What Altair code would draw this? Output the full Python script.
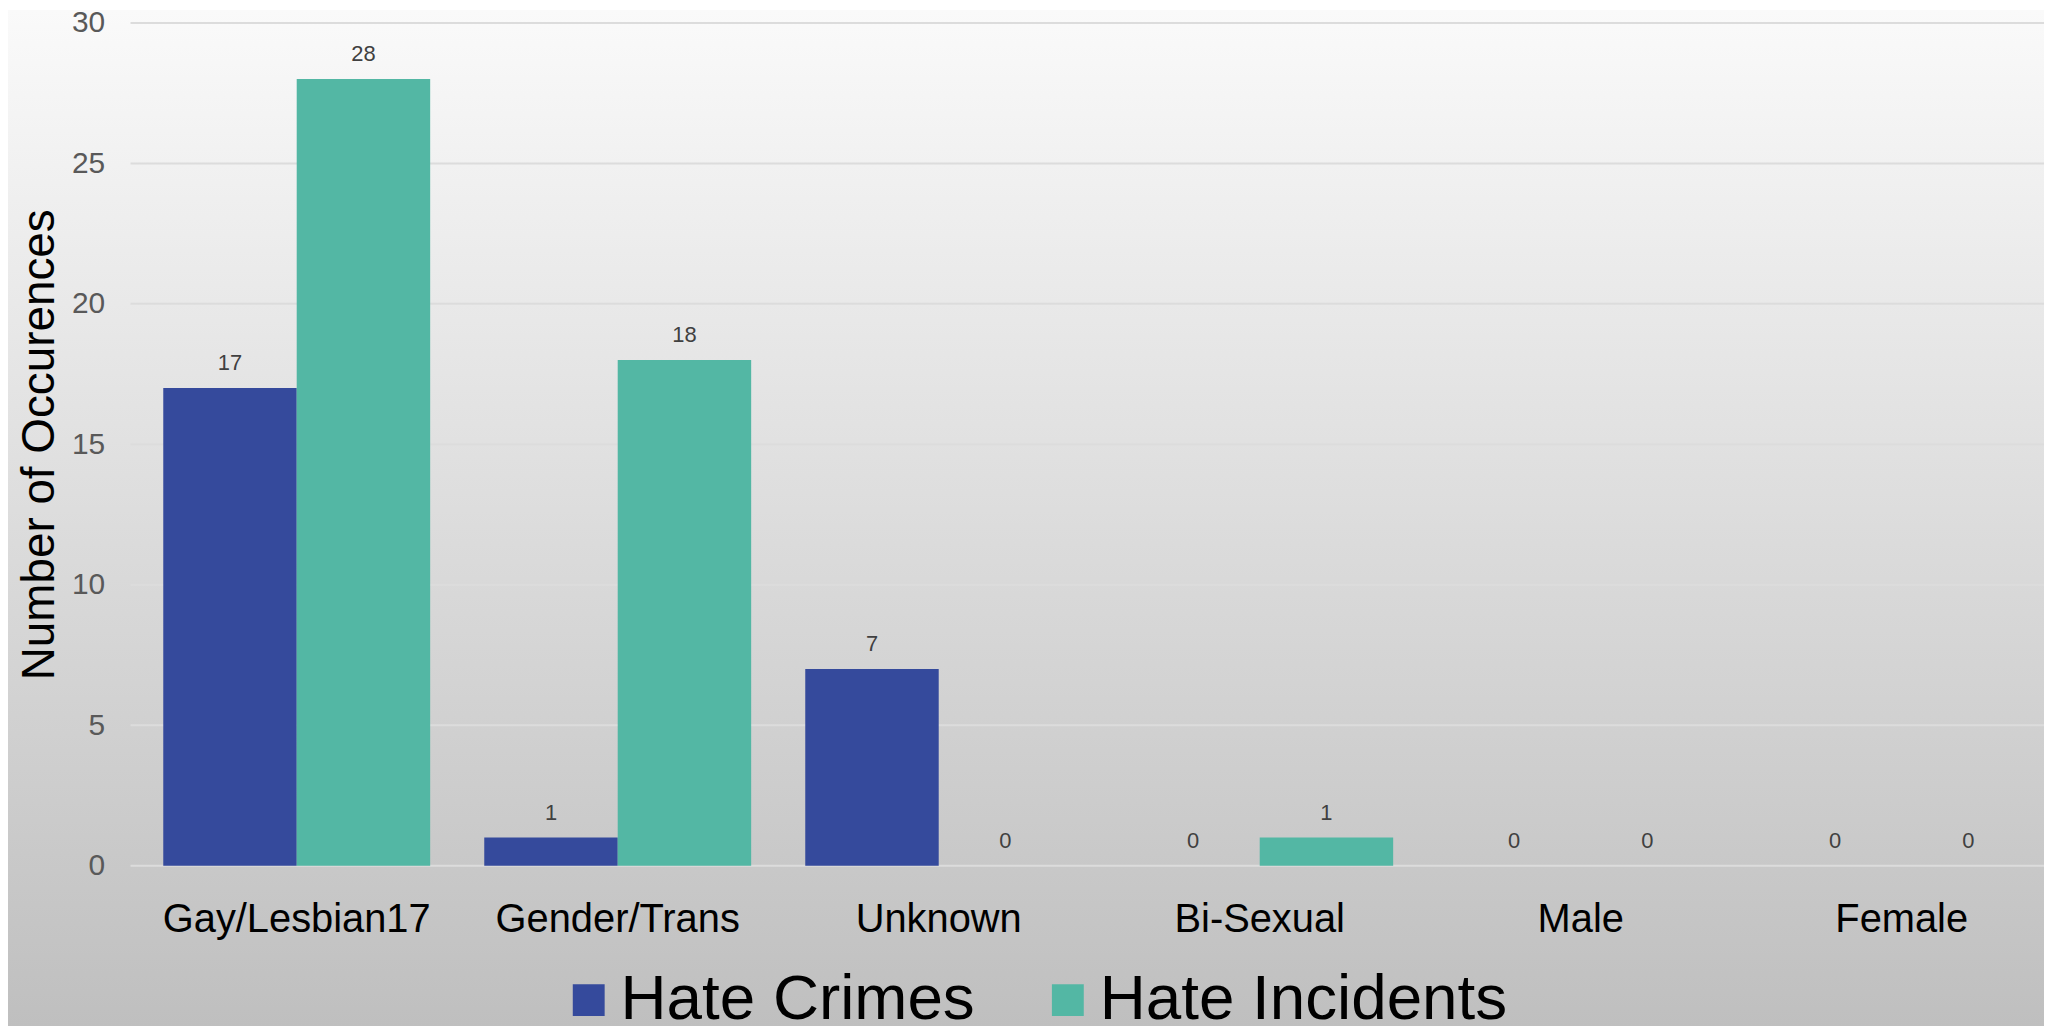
import altair as alt
import pandas as pd

categories = ["Gay/Lesbian17", "Gender/Trans", "Unknown", "Bi-Sexual", "Male", "Female"]
series_names = ["Hate Crimes", "Hate Incidents"]
hate_crimes = [17, 1, 7, 0, 0, 0]
hate_incidents = [28, 18, 0, 1, 0, 0]
grid_values = [0, 5, 10, 15, 20, 25, 30]
series_colors = ["#354A9C", "#53B7A4"]

rows = []
for c, hc, hi in zip(categories, hate_crimes, hate_incidents):
    rows.append({"category": c, "series": series_names[0], "value": hc})
    rows.append({"category": c, "series": series_names[1], "value": hi})
df = pd.DataFrame(rows)
grid_df = pd.DataFrame({"v": grid_values})

FONT = "Liberation Sans"
W, H = 1921, 846

bg = alt.Chart(alt.Data(values=[{"k": 1}])).mark_rect(
    color=alt.LinearGradient(
        gradient="linear", x1=0, y1=0, x2=0, y2=1,
        stops=[alt.GradientStop(offset=0, color="#fafafa"),
               alt.GradientStop(offset=1, color="#bfbfbf")],
    )
).encode(
    x=alt.value(-200), x2=alt.value(W + 200),
    y=alt.value(-13), y2=alt.value(1007),
)

yscale = alt.Scale(domain=[0, 30], nice=False)

grid = alt.Chart(grid_df).mark_rule(color="#dcdcdc", strokeWidth=2).encode(
    y=alt.Y("v:Q", scale=yscale)
)

xscale = alt.Scale(paddingInner=0.1685, paddingOuter=0.0927, range=[3, 1942])

xenc = alt.X(
    "category:N", sort=categories, scale=xscale,
    axis=alt.Axis(title=None, labelAngle=0, labelFontSize=40, labelColor="black",
                  labelBaseline="alphabetic", labelPadding=66, domain=False,
                  ticks=False, tickSize=0, labelFont=FONT, zindex=1, labelLimit=600),
)

bars = alt.Chart(df).mark_bar().encode(
    x=xenc,
    xOffset=alt.XOffset("series:N", sort=series_names, scale=alt.Scale(paddingInner=0)),
    y=alt.Y("value:Q", scale=yscale,
            axis=alt.Axis(values=grid_values, grid=False, domain=False, ticks=False,
                          labelFontSize=30, labelColor="#595959", labelPadding=26,
                          labelFont=FONT, title="Number of Occurences",
                          titleFontSize=46, titleFontWeight="normal", titleColor="black",
                          titleFont=FONT, titleAngle=270, titleBaseline="middle",
                          titleAlign="center", titleX=-91, titleY=H / 2, zindex=1)),
    color=alt.Color("series:N", sort=series_names,
                    scale=alt.Scale(domain=series_names, range=series_colors),
                    legend=alt.Legend(title=None, orient="none", legendX=428, legendY=949,
                                      direction="horizontal", symbolType="square",
                                      symbolSize=1024, symbolStrokeWidth=0,
                                      labelFontSize=64, labelColor="black", labelFont=FONT,
                                      columnPadding=61, labelOffset=0, labelLimit=800,
                                      zindex=2)),
)

labels = alt.Chart(df).mark_text(dy=-18, baseline="alphabetic", fontSize=22,
                                 color="#404040", font=FONT).encode(
    x=alt.X("category:N", sort=categories, scale=xscale),
    xOffset=alt.XOffset("series:N", sort=series_names),
    y=alt.Y("value:Q", scale=yscale),
    text=alt.Text("value:Q"),
)

chart = alt.layer(bg, grid, bars, labels).properties(
    width=W, height=H,
    autosize=alt.AutoSizeParams(type="none"),
    padding={"left": 123, "top": 13, "right": 0, "bottom": 161},
).configure_view(stroke=None).configure(font=FONT, background="#ffffff")

chart.save("out.html", embed_options={"renderer": "svg", "actions": False})
